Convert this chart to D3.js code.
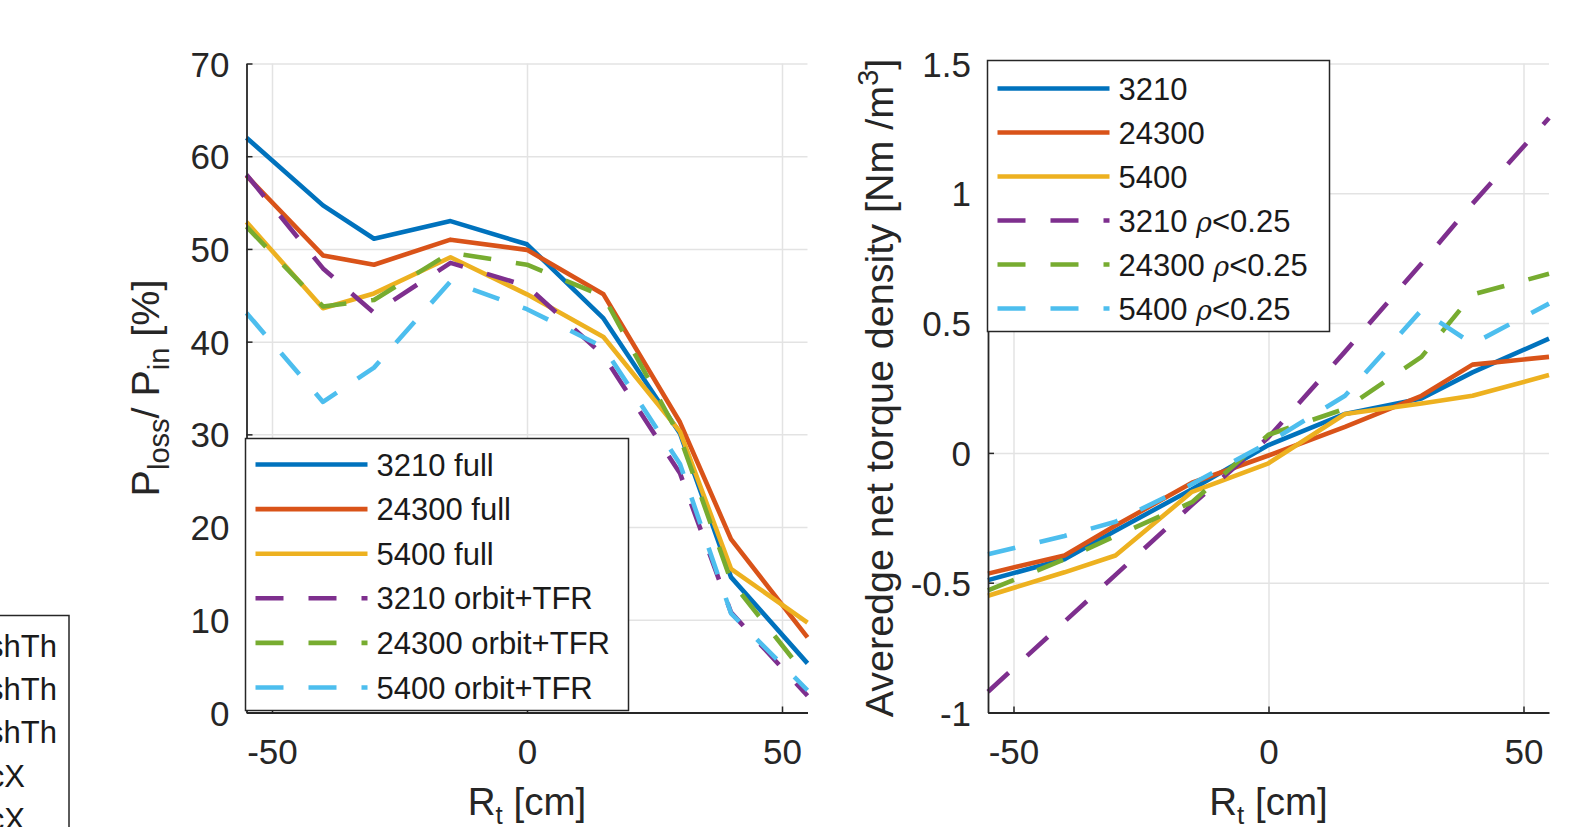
<!DOCTYPE html>
<html>
<head>
<meta charset="utf-8">
<script src="https://cdn.jsdelivr.net/npm/d3@7"></script>
<style>
  html, body { margin: 0; padding: 0; background: #fff; }
  svg { display: block; font-family: "Liberation Sans", Arial, sans-serif; }
</style>
</head>
<body>
<script>
// radial positions (cm), shared by both panels
const R_T = [-55, -40, -30, -15, 0, 15, 30, 40, 55];

// left panel: lost power fraction [%]
const PLOSS_3210_FULL   = [62.0, 54.7, 51.1, 53.0, 50.5, 42.5, 30.1, 14.6, 5.3];
const PLOSS_24300_FULL  = [57.9, 49.3, 48.3, 51.0, 49.9, 45.1, 31.3, 18.7, 8.1];
const PLOSS_5400_FULL   = [52.9, 43.6, 45.2, 49.1, 45.1, 40.5, 30.3, 15.5, 9.7];
const PLOSS_3210_ORBIT  = [58.0, 47.9, 43.1, 48.5, 46.0, 38.5, 25.8, 10.8, 1.8];
const PLOSS_24300_ORBIT = [52.4, 43.8, 44.5, 49.6, 48.3, 44.9, 29.7, 14.2, 3.8];
const PLOSS_5400_ORBIT  = [43.1, 33.5, 37.2, 46.5, 43.5, 39.4, 26.8, 10.7, 2.4];

// right panel: averaged net torque density [Nm/m^3]
const TORQUE_3210       = [-0.49, -0.41, -0.30, -0.14, 0.03, 0.15, 0.21, 0.31, 0.44];
const TORQUE_24300      = [-0.465, -0.395, -0.28, -0.115, -0.01, 0.10, 0.22, 0.34, 0.37];
const TORQUE_5400       = [-0.55, -0.46, -0.395, -0.15, -0.04, 0.15, 0.19, 0.22, 0.30];
const TORQUE_3210_CORE  = [-0.92, -0.65, -0.47, -0.20, 0.06, 0.39, 0.73, 0.96, 1.29];
const TORQUE_24300_CORE = [-0.53, -0.41, -0.32, -0.19, 0.07, 0.17, 0.37, 0.61, 0.69];
const TORQUE_5400_CORE  = [-0.39, -0.32, -0.265, -0.12, 0.04, 0.22, 0.55, 0.42, 0.575];

const X_TICKS = [-50, 0, 50];
const PLOSS_TICKS = [0, 10, 20, 30, 40, 50, 60, 70];
const TORQUE_TICKS = [-1, -0.5, 0, 0.5, 1, 1.5];

const LEFT_LABELS = ["3210 full", "24300 full", "5400 full", "3210 orbit+TFR", "24300 orbit+TFR", "5400 orbit+TFR"];
const RIGHT_LABELS = ["3210", "24300", "5400", "3210", "24300", "5400"];
const PARTIAL_LEGEND = ["shTh", "shTh", "shTh", "cX", "cX"];

const COLORS = ["#0072BD", "#D95319", "#EDB120", "#7E2F8E", "#77AC30", "#4DBEEE"];
const DASH = "28,25";
const AXIS_COLOR = "#262626";
const LINE_W = 4.6;

const W = 1591, H = 827;
const svg = d3.select("body").append("svg").attr("width", W).attr("height", H);
svg.append("rect").attr("width", W).attr("height", H).attr("fill", "#fff");

// MATLAB-style tick text: plain hyphen, no trailing zeros
const fmt = d => String(d);

function panel(opt) {
  const x = d3.scaleLinear().domain([-55, 55]).range([opt.left, opt.right]);
  const y = d3.scaleLinear().domain(opt.yDomain).range([712.5, 63.5]);
  const g = svg.append("g");

  // grid
  g.append("g")
    .attr("transform", `translate(0,${y.range()[0]})`)
    .call(d3.axisBottom(x).tickValues(X_TICKS).tickSize(-(y.range()[0] - y.range()[1])).tickFormat(""))
    .call(a => a.select(".domain").remove())
    .call(a => a.selectAll(".tick line").attr("stroke", "#e3e3e3").attr("stroke-width", 1.5));
  g.append("g")
    .attr("transform", `translate(${opt.left},0)`)
    .call(d3.axisLeft(y).tickValues(opt.yTicks).tickSize(-(opt.right - opt.left)).tickFormat(""))
    .call(a => a.select(".domain").remove())
    .call(a => a.selectAll(".tick line").attr("stroke", "#e3e3e3").attr("stroke-width", 1.5));

  // lines
  const line = d3.line().x((d, i) => x(R_T[i])).y(d => y(d));
  opt.series.forEach((s, i) => {
    g.append("path")
      .datum(s)
      .attr("fill", "none")
      .attr("stroke", COLORS[i])
      .attr("stroke-width", LINE_W)
      .attr("stroke-linejoin", "round")
      .attr("stroke-dasharray", i >= 3 ? DASH : null)
      .attr("d", line);
  });

  // axes (left + bottom only, ticks pointing inward)
  g.append("g")
    .attr("transform", `translate(${opt.left},0)`)
    .call(d3.axisLeft(y).tickValues(opt.yTicks).tickFormat(fmt).tickSizeInner(-6).tickSizeOuter(0).tickPadding(17))
    .call(a => a.select(".domain").attr("stroke", AXIS_COLOR).attr("stroke-width", 1.8))
    .call(a => a.selectAll(".tick line").attr("stroke", AXIS_COLOR).attr("stroke-width", 1.5))
    .call(a => a.selectAll("text")
      .attr("font-size", 35).attr("font-family", null)
      .attr("fill", AXIS_COLOR).attr("dy", "0.36em"));
  g.append("g")
    .attr("transform", `translate(0,${y.range()[0]})`)
    .call(d3.axisBottom(x).tickValues(X_TICKS).tickFormat(fmt).tickSizeInner(-6).tickSizeOuter(0))
    .call(a => a.select(".domain").attr("stroke", AXIS_COLOR).attr("stroke-width", 1.8))
    .call(a => a.selectAll(".tick line").attr("stroke", AXIS_COLOR).attr("stroke-width", 1.5))
    .call(a => a.selectAll("text")
      .attr("font-size", 35).attr("font-family", null)
      .attr("fill", AXIS_COLOR).attr("y", 51).attr("dy", 0));

  // x label
  const xl = svg.append("text")
    .attr("x", (opt.left + opt.right) / 2).attr("y", 815)
    .attr("text-anchor", "middle").attr("font-size", 38.5).attr("fill", AXIS_COLOR);
  xl.append("tspan").text("R");
  xl.append("tspan").attr("font-size", 26).attr("dy", 9).text("t");
  xl.append("tspan").attr("dy", -9).text(" [cm]");

  // y label
  const yl = svg.append("text")
    .attr("transform", `translate(${opt.yLabelX},388) rotate(-90)`)
    .attr("text-anchor", "middle").attr("font-size", 39.5).attr("fill", AXIS_COLOR);
  opt.yLabel(yl);

  // legend
  const lg = svg.append("g");
  lg.append("rect")
    .attr("x", opt.legend.x).attr("y", opt.legend.y)
    .attr("width", opt.legend.w).attr("height", opt.legend.h)
    .attr("fill", "#fff").attr("stroke", AXIS_COLOR).attr("stroke-width", 1.5);
  opt.labels.forEach((lab, i) => {
    const cy = opt.legend.y + opt.legend.first + i * opt.legend.step;
    const lx = opt.legend.x + 10;
    lg.append("line")
      .attr("x1", lx).attr("x2", lx + 112).attr("y1", cy).attr("y2", cy)
      .attr("stroke", COLORS[i]).attr("stroke-width", LINE_W)
      .attr("stroke-dasharray", i >= 3 ? DASH : null);
    const t = lg.append("text")
      .attr("x", lx + 121).attr("y", cy + 11)
      .attr("font-size", 31).attr("fill", "#1a1a1a");
    t.append("tspan").text(lab);
    if (opt.rho && i >= 3) {
      t.append("tspan").text(" ");
      t.append("tspan").attr("font-style", "italic").attr("font-family", "DejaVu Serif, serif").attr("font-size", 27).text("ρ");
      t.append("tspan").text("<0.25");
    }
  });
}

panel({
  left: 246.5, right: 807.5,
  yDomain: [0, 70], yTicks: PLOSS_TICKS,
  series: [PLOSS_3210_FULL, PLOSS_24300_FULL, PLOSS_5400_FULL, PLOSS_3210_ORBIT, PLOSS_24300_ORBIT, PLOSS_5400_ORBIT],
  labels: LEFT_LABELS, rho: false,
  legend: { x: 245.5, y: 438.5, w: 383, h: 272, first: 26, step: 44.6 },
  yLabelX: 159,
  yLabel: t => {
    t.append("tspan").text("P");
    t.append("tspan").attr("font-size", 29).attr("dy", 10).text("loss");
    t.append("tspan").attr("dy", -10).text("/ P");
    t.append("tspan").attr("font-size", 29).attr("dy", 10).text("in");
    t.append("tspan").attr("dy", -10).text(" [%]");
  }
});

panel({
  left: 988, right: 1549,
  yDomain: [-1, 1.5], yTicks: TORQUE_TICKS,
  series: [TORQUE_3210, TORQUE_24300, TORQUE_5400, TORQUE_3210_CORE, TORQUE_24300_CORE, TORQUE_5400_CORE],
  labels: RIGHT_LABELS, rho: true,
  legend: { x: 987.5, y: 60.5, w: 342, h: 271, first: 28, step: 44 },
  yLabelX: 893,
  yLabel: t => {
    t.append("tspan").text("Averedge net torque density [Nm /m");
    t.append("tspan").attr("font-size", 29).attr("dy", -15).text("3");
    t.append("tspan").attr("dy", 15).text("]");
  }
});

// partially visible legend of a neighbouring panel at the left edge
const pl = svg.append("g");
pl.append("rect").attr("x", -100).attr("y", 615.5).attr("width", 169).attr("height", 300)
  .attr("fill", "#fff").attr("stroke", AXIS_COLOR).attr("stroke-width", 1.5);
PARTIAL_LEGEND.forEach((lab, i) => {
  pl.append("text")
    .attr("x", lab === "cX" ? 25 : 57).attr("y", 656.7 + i * 43.3)
    .attr("text-anchor", "end").attr("font-size", 31).attr("fill", "#1a1a1a")
    .text(lab);
});
</script>
</body>
</html>
